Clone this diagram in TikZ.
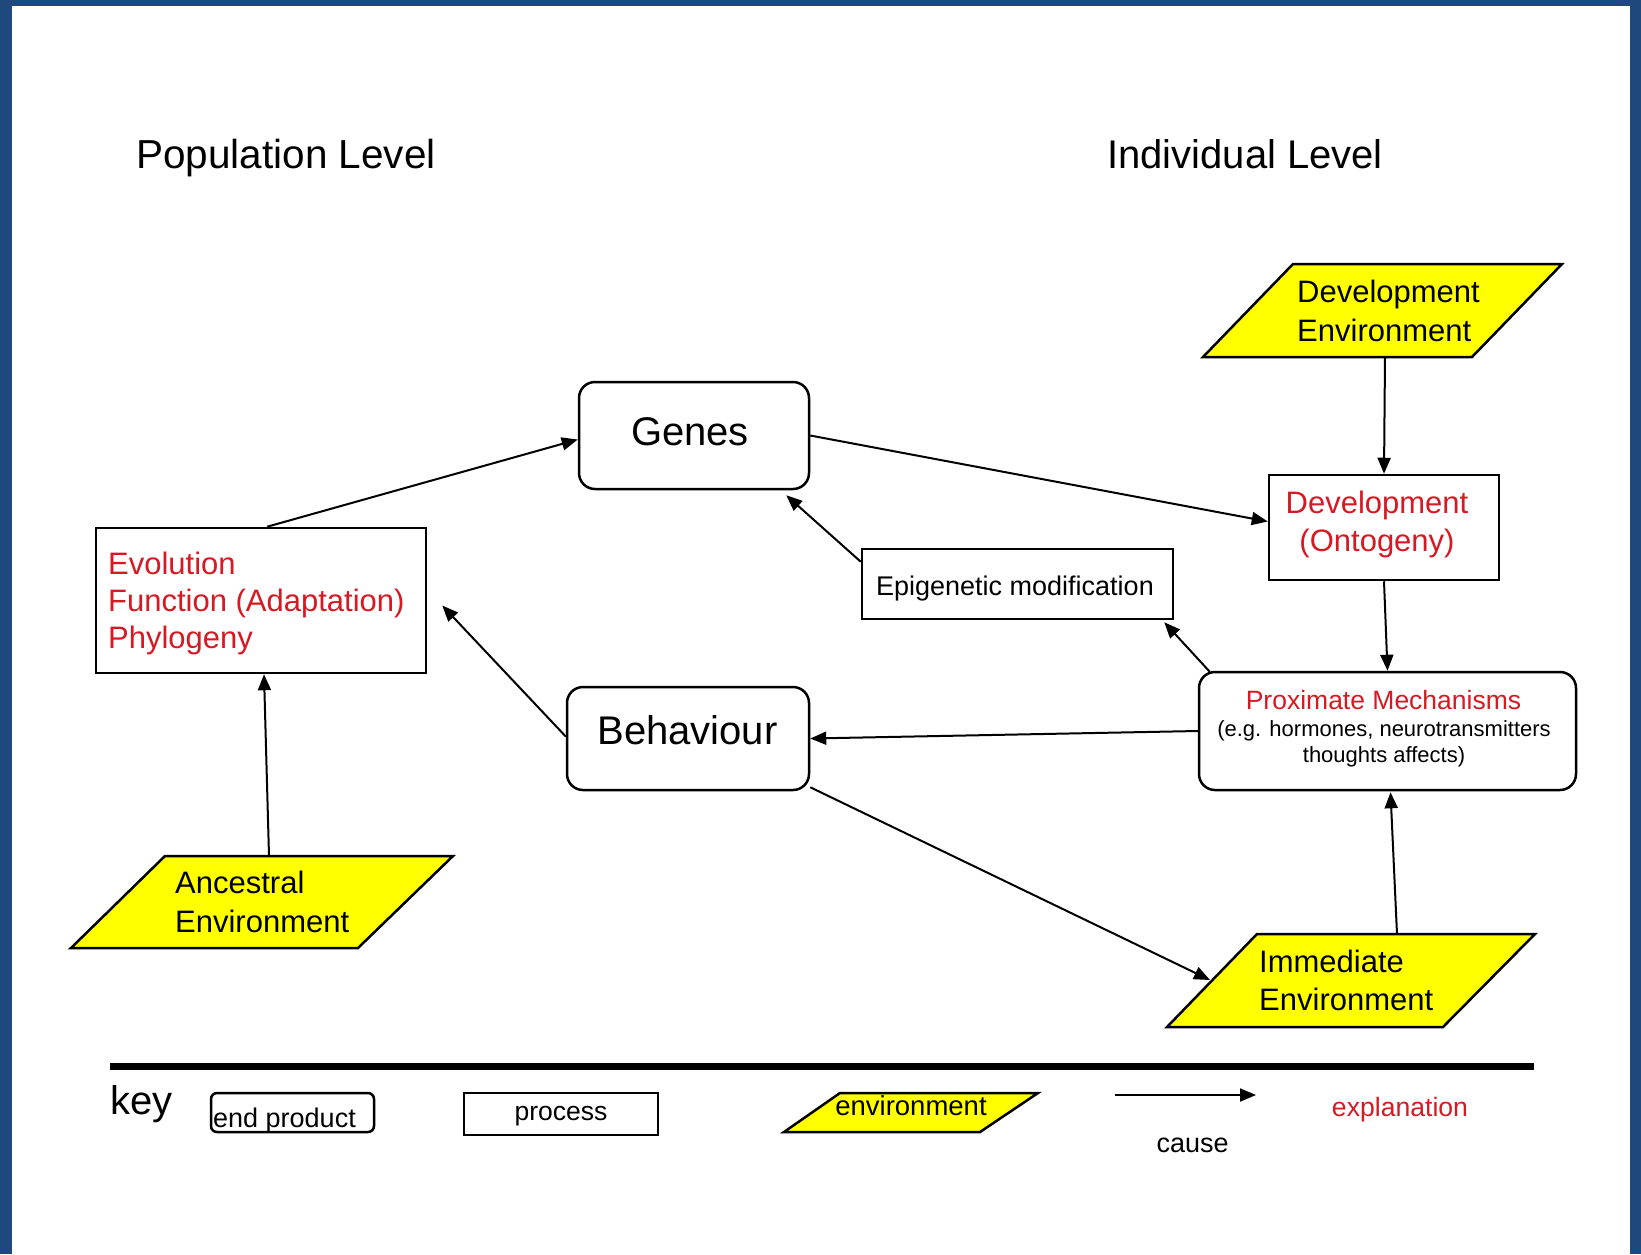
\documentclass[tikz,border=0pt]{standalone}
\usepackage{fontspec}
\setmainfont{Liberation Sans}
\usetikzlibrary{arrows.meta,calc}
\definecolor{frameblue}{RGB}{31,73,125}
\definecolor{expred}{RGB}{215,25,35}
\definecolor{envyellow}{RGB}{255,255,0}
\tikzset{
  box/.style={draw, line width=2.5pt, inner sep=0pt, fill=white},
  rbox/.style={box, rounded corners=16pt},
  envshape/.style={draw, line width=2.5pt, fill=envyellow, line join=miter},
  arr/.style={line width=2pt, -{Triangle[length=16pt,width=13pt]}},
  txt/.style={inner sep=0pt, font=\fontsize{31}{37}\selectfont},
  bigtxt/.style={inner sep=0pt, font=\fontsize{40}{48}\selectfont},
  smalltxt/.style={inner sep=0pt, font=\fontsize{27}{32}\selectfont},
  tinytxt/.style={inner sep=0pt, font=\fontsize{22}{26}\selectfont},
  expl/.style={text=expred},
}
\begin{document}
\begin{tikzpicture}[x=1pt,y=-1pt]
\useasboundingbox (0,0) rectangle (1641,1254);
\fill[frameblue] (0,0) rectangle (1641,1254);
\fill[white] (11.5,6) rectangle (1630,1254);

% headings
\node[bigtxt, anchor=base west, font=\fontsize{40.5}{48}\selectfont] (poplevel) at (136,168) {Population Level};
\node[bigtxt, anchor=base west] (indlevel) at (1107,168) {Individual Level};

% environment shapes
\draw[envshape] (1293,264) -- (1562,264) -- (1472,357) -- (1203,357) -- cycle;
\draw[envshape] (165,856) -- (453,856) -- (358,948) -- (71,948) -- cycle;
\draw[envshape] (1257,934) -- (1535,934) -- (1443,1027) -- (1167,1027) -- cycle;
\coordinate (devenvB) at (1385,357);
\coordinate (ancesT) at (269,856);
\coordinate (immT) at (1397,934);
\coordinate (immL) at (1210,980);

\node[txt, anchor=base west] (devenvT1) at (1297,302) {Development};
\node[txt, anchor=base west] (devenvT2) at (1297,341) {Environment};
\node[txt, anchor=base west] (ancesT1) at (175,893) {Ancestral};
\node[txt, anchor=base west] (ancesT2) at (175,932) {Environment};
\node[txt, anchor=base west] (immT1) at (1259,972) {Immediate};
\node[txt, anchor=base west] (immT2) at (1259,1010) {Environment};

% boxes
\node[box, minimum width=330pt, minimum height=145pt] (evo) at (261,600.5) {};
\node[rbox, minimum width=230pt, minimum height=107pt] (genes) at (694,435.5) {};
\node[rbox, minimum width=242pt, minimum height=103pt] (beh) at (688,738.5) {};
\node[box, minimum width=230pt, minimum height=105pt] (dev) at (1384,527.5) {};
\node[box, minimum width=311pt, minimum height=70pt] (epi) at (1017.5,584) {};
\node[rbox, minimum width=377pt, minimum height=118pt] (prox) at (1387.5,731) {};

% box texts
\node[txt, expl, anchor=base west] (evoT1) at (108,574) {Evolution};
\node[txt, expl, anchor=base west] (evoT2) at (108,611) {Function (Adaptation)};
\node[txt, expl, anchor=base west] (evoT3) at (108,648) {Phylogeny};
\node[bigtxt] (genesT) at (690,432) {Genes};
\node[bigtxt] (behT) at (687.5,730.5) {Behaviour};
\node[txt, expl, anchor=base] (devT1) at (1377,513) {Development};
\node[txt, expl, anchor=base] (devT2) at (1377,551) {(Ontogeny)};
\node[smalltxt, anchor=base] (epiT) at (1015,595) {Epigenetic modification};
\node[smalltxt, expl, anchor=base, font=\fontsize{26.5}{32}\selectfont] (proxT1) at (1383.5,709) {Proximate Mechanisms};
\node[tinytxt, anchor=base] (proxT2) at (1384,736.5) {(e.g. hormones, neurotransmitters};
\node[tinytxt, anchor=base] (proxT3) at (1384,762) {thoughts affects)};

% connectors
\draw[arr] ($(evo.north)+(6,0)$) -- ($(genes.west)+(0,4)$);
\draw[arr] (genes.east) -- ($(dev.west)+(0,-6)$);
\draw[arr] (devenvB) -- (dev.north);
\draw[arr] (dev.south) -- (prox.north);
\draw[arr] ($(prox.north west)+(12,1)$) -- ($(epi.south east)+(-10,2)$);
\draw[arr] ($(epi.north west)+(0,14)$) -- ($(genes.south east)+(-24,5)$);
\draw[arr] (prox.west) -- (beh.east);
\draw[arr] ($(beh.west)+(0,-2)$) -- ($(evo.east)+(15,5)$);
\draw[arr] ($(beh.south east)+(0,-4)$) -- (immL);
\draw[arr] (immT) -- ($(prox.south)+(3,1)$);
\draw[arr] (ancesT) -- ($(evo.south)+(3,0)$);

% key
\draw[line width=6.5pt] (110,1066.5) -- (1534,1066.5);
\node[bigtxt, anchor=base west] (keyT) at (110,1114) {key};
\node[draw, line width=2.5pt, rounded corners=6pt, inner sep=0pt, minimum width=163pt, minimum height=39pt] (keyend) at (292.5,1112.5) {};
\node[smalltxt, anchor=base west] (keyendT) at (213,1127) {end product};
\node[draw, line width=2.5pt, inner sep=0pt, minimum width=194pt, minimum height=42pt] (keyproc) at (561,1114) {};
\node[smalltxt, anchor=base, font=\fontsize{26.5}{32}\selectfont] (keyprocT) at (561,1120) {process};
\draw[envshape] (840,1093) -- (1038,1093) -- (980,1132) -- (784,1132) -- cycle;
\node[smalltxt, anchor=base, font=\fontsize{27.5}{32}\selectfont] (keyenvT) at (911,1115) {environment};
\coordinate (causeA) at (1115,1095);
\coordinate (causeB) at (1256,1095);
\draw[arr] (causeA) -- (causeB);
\node[smalltxt, anchor=base] (causeT) at (1192.6,1152) {cause};
\node[smalltxt, expl, anchor=base, font=\fontsize{26.6}{32}\selectfont] (explT) at (1400,1116) {explanation};
\end{tikzpicture}
\end{document}
